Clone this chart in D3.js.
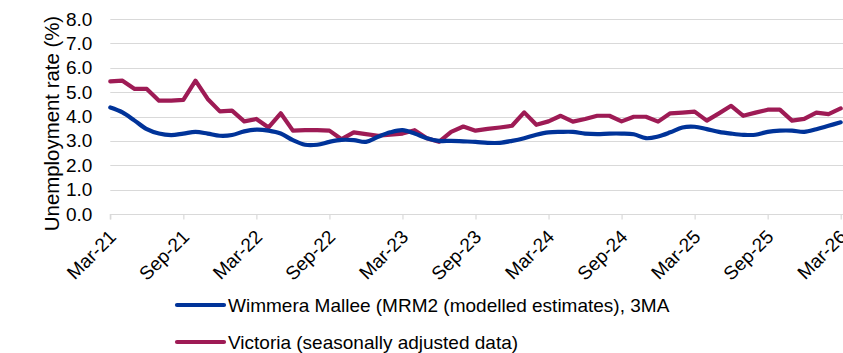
<!DOCTYPE html>
<html>
<head>
<meta charset="utf-8">
<script src="https://cdn.jsdelivr.net/npm/d3@7/dist/d3.min.js"></script>
<style>
  html, body { margin: 0; padding: 0; background: #fff; }
  svg { display: block; }
  text { font-family: "Liberation Sans", Arial, sans-serif; fill: #000; }
</style>
</head>
<body>
<svg id="chart" width="843" height="353"></svg>
<script>
// Monthly categories, Mar-21 to Mar-26
const months = [
  "Mar-21","Apr-21","May-21","Jun-21","Jul-21","Aug-21","Sep-21","Oct-21","Nov-21","Dec-21","Jan-22","Feb-22",
  "Mar-22","Apr-22","May-22","Jun-22","Jul-22","Aug-22","Sep-22","Oct-22","Nov-22","Dec-22","Jan-23","Feb-23",
  "Mar-23","Apr-23","May-23","Jun-23","Jul-23","Aug-23","Sep-23","Oct-23","Nov-23","Dec-23","Jan-24","Feb-24",
  "Mar-24","Apr-24","May-24","Jun-24","Jul-24","Aug-24","Sep-24","Oct-24","Nov-24","Dec-24","Jan-25","Feb-25",
  "Mar-25","Apr-25","May-25","Jun-25","Jul-25","Aug-25","Sep-25","Oct-25","Nov-25","Dec-25","Jan-26","Feb-26",
  "Mar-26"
];

// Wimmera Mallee, modelled estimates, 3-month average (%)
const wimmera = [
  4.37, 4.17, 3.83, 3.48, 3.30, 3.24, 3.30, 3.37, 3.30, 3.21, 3.24, 3.39,
  3.46, 3.42, 3.30, 3.03, 2.84, 2.84, 2.96, 3.04, 3.03, 2.96, 3.17, 3.35,
  3.44, 3.30, 3.11, 3.00, 3.00, 2.98, 2.96, 2.92, 2.92, 3.00, 3.11, 3.25,
  3.35, 3.37, 3.37, 3.30, 3.28, 3.30, 3.30, 3.27, 3.11, 3.18, 3.35, 3.55,
  3.58, 3.48, 3.37, 3.30, 3.25, 3.25, 3.37, 3.42, 3.42, 3.37, 3.48, 3.62,
  3.76
];

// Victoria, seasonally adjusted (%)
const victoria = [
  5.44, 5.47, 5.13, 5.13, 4.65, 4.65, 4.68, 5.47, 4.72, 4.21, 4.24, 3.80,
  3.90, 3.55, 4.13, 3.42, 3.44, 3.44, 3.42, 3.07, 3.35, 3.28, 3.21, 3.25,
  3.30, 3.44, 3.11, 2.96, 3.37, 3.59, 3.42, 3.49, 3.55, 3.62, 4.17, 3.66,
  3.80, 4.03, 3.79, 3.90, 4.03, 4.03, 3.80, 3.99, 3.99, 3.79, 4.13, 4.16,
  4.20, 3.83, 4.13, 4.44, 4.03, 4.16, 4.28, 4.28, 3.83, 3.90, 4.16, 4.10,
  4.33
];

const yTicks = [0, 1, 2, 3, 4, 5, 6, 7, 8];
const xTickLabels = ["Mar-21","Sep-21","Mar-22","Sep-22","Mar-23","Sep-23","Mar-24","Sep-24","Mar-25","Sep-25","Mar-26"];

const seriesNames = [
  "Wimmera Mallee (MRM2 (modelled estimates), 3MA",
  "Victoria (seasonally adjusted data)"
];
const seriesColors = ["#003399", "#9E1B55"];

const FONT = "Liberation Sans, Arial, sans-serif";
const svg = d3.select("#chart");

const x = d3.scalePoint().domain(months).range([110.3, 840.7]);
const y = d3.scaleLinear().domain([0, 8]).range([214, 19]);

// Horizontal gridlines
svg.append("g")
  .selectAll("line")
  .data(yTicks.filter(d => d > 0))
  .join("line")
  .attr("x1", x.range()[0])
  .attr("x2", 843)
  .attr("y1", d => Math.round(y(d)) + 0.5)
  .attr("y2", d => Math.round(y(d)) + 0.5)
  .attr("stroke", "#d9d9d9")
  .attr("stroke-width", 1.2);

// Y axis labels
const yAxis = d3.axisLeft(y)
  .tickValues(yTicks)
  .tickFormat(d3.format(".1f"))
  .tickSize(0)
  .tickPadding(18);
const gy = svg.append("g")
  .attr("transform", `translate(${x.range()[0]},0)`)
  .call(yAxis);
gy.select(".domain").remove();
gy.selectAll("text")
  .attr("font-size", "19px")
  .attr("font-family", FONT)
  .attr("fill", "#000");

// X axis with ticks every six months
const xAxis = d3.axisBottom(x)
  .tickValues(xTickLabels)
  .tickSize(5)
  .tickSizeOuter(0);
const gx = svg.append("g")
  .attr("transform", `translate(0,${Math.round(y(0)) + 0.5})`)
  .call(xAxis);
gx.select(".domain").attr("stroke", "#d9d9d9").attr("stroke-width", 1.2)
  .attr("d", `M${x.range()[0]},5V0H843`);
gx.selectAll(".tick line").attr("stroke", "#d9d9d9").attr("stroke-width", 1.2);
gx.selectAll(".tick text")
  .attr("font-size", "19px")
  .attr("font-family", FONT)
  .attr("fill", "#000")
  .attr("text-anchor", "end")
  .attr("dy", null)
  .attr("y", null)
  .attr("transform", "translate(3,20) rotate(-45)")
  .attr("dominant-baseline", "middle");

// Y axis title
svg.append("text")
  .attr("transform", "translate(59,123.5) rotate(-90)")
  .attr("text-anchor", "middle")
  .attr("font-size", "20.4px")
  .text("Unemployment rate (%)");

// Series lines
const lineSmooth = d3.line()
  .x((d, i) => x(months[i]))
  .y(d => y(d))
  .curve(d3.curveCardinal.tension(0));
const lineStraight = d3.line()
  .x((d, i) => x(months[i]))
  .y(d => y(d));

svg.append("path")
  .datum(victoria)
  .attr("d", lineStraight)
  .attr("fill", "none")
  .attr("stroke", seriesColors[1])
  .attr("stroke-width", 4.2)
  .attr("stroke-linejoin", "round")
  .attr("stroke-linecap", "round");

svg.append("path")
  .datum(wimmera)
  .attr("d", lineSmooth)
  .attr("fill", "none")
  .attr("stroke", seriesColors[0])
  .attr("stroke-width", 4.2)
  .attr("stroke-linejoin", "round")
  .attr("stroke-linecap", "round");

// Legend
const legend = svg.append("g");
const legendRows = [305, 342];
seriesNames.forEach((name, i) => {
  const g = legend.append("g").attr("transform", `translate(0,${legendRows[i]})`);
  g.append("line")
    .attr("x1", 177).attr("x2", 224)
    .attr("y1", 0).attr("y2", 0)
    .attr("stroke", seriesColors[i])
    .attr("stroke-width", 4.2)
    .attr("stroke-linecap", "round");
  g.append("text")
    .attr("x", 228)
    .attr("y", 0)
    .attr("dy", "0.35em")
    .attr("font-size", "19px")
    .text(name);
});
</script>
</body>
</html>
